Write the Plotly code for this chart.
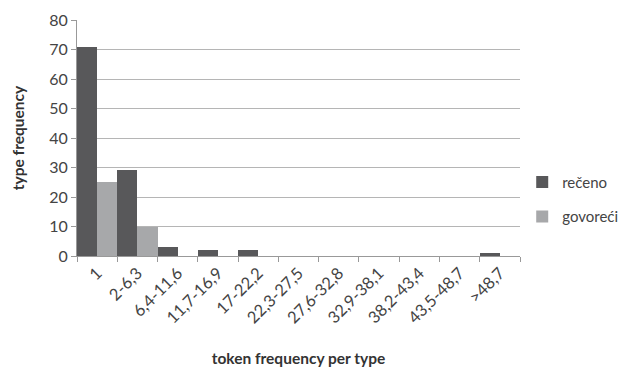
import plotly.graph_objects as go

categories = ["1", "2-6,3", "6,4-11,6", "11,7-16,9", "17-22,2", "22,3-27,5",
              "27,6-32,8", "32,9-38,1", "38,2-43,4", "43,5-48,7", ">48,7"]
receno = [71, 29, 3, 2, 2, 0, 0, 0, 0, 0, 1]
govoreci = [25, 10, 0, 0, 0, 0, 0, 0, 0, 0, 0]
y_ticks = [0, 10, 20, 30, 40, 50, 60, 70, 80]

font_family = "Lato, Open Sans, sans-serif"

fig = go.Figure()
fig.add_trace(go.Bar(x=categories, y=receno, name="rečeno", legendgroup="g1",
                     marker=dict(color="#58585a", line=dict(width=0))))
fig.add_trace(go.Bar(x=categories, y=govoreci, name="govoreći", legendgroup="g2",
                     marker=dict(color="#a7a8aa", line=dict(width=0))))

fig.update_layout(
    width=625, height=367,
    margin=dict(l=69, r=113, t=12, b=119, autoexpand=False),
    paper_bgcolor="white", plot_bgcolor="white",
    barmode="group", bargap=0, bargroupgap=0,
    font=dict(family=font_family, color="#444444", size=15),
    legend=dict(x=1.005, y=0.24, xanchor="left", yanchor="middle",
                font=dict(size=15, color="#444444"),
                itemsizing="constant", tracegroupgap=12, traceorder="grouped"),
    xaxis=dict(
        type="category", tickangle=-45, tickson="boundaries", automargin=False,
        ticks="outside", ticklen=5, tickcolor="#999999",
        showline=True, linecolor="#999999", linewidth=1,
        tickfont=dict(size=16.5, color="#444444"),
        title=dict(text="<b>token frequency per type</b>", font=dict(size=15.5, color="#333333"), standoff=26),
        showgrid=False,
    ),
    yaxis=dict(
        range=[0, 80], tickvals=y_ticks, ticks="outside", ticklen=5, tickcolor="#999999",
        showline=True, linecolor="#999999", linewidth=1, automargin=False,
        gridcolor="#b5b5b5", gridwidth=1,
        tickfont=dict(size=16, color="#444444"),
        title=dict(text="<b>type frequency</b>", font=dict(size=15.5, color="#333333"), standoff=20),
        zeroline=False,
    ),
)

fig.write_html("out.html")
